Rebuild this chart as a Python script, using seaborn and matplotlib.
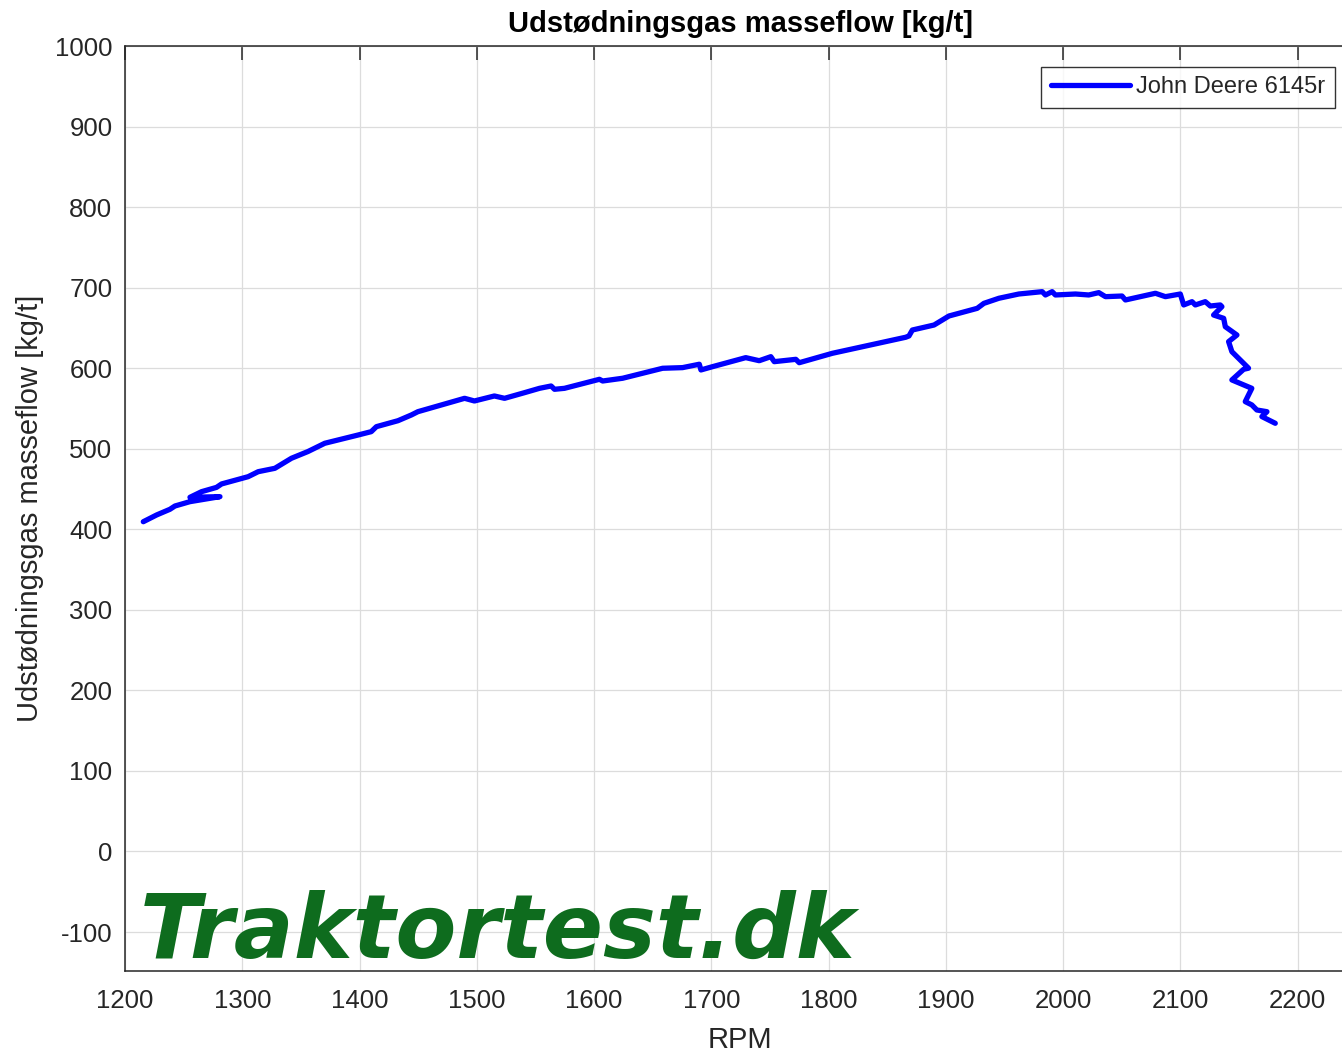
import matplotlib
matplotlib.use("Agg")
import matplotlib.pyplot as plt
import seaborn as sns
import pandas as pd

# ---- data ----
rpm = [1215.6, 1227.0, 1238.3, 1242.6, 1255.4, 1281.0, 1255.4, 1265.3, 1278.0, 1282.4,
       1305.0, 1313.6, 1327.8, 1342.0, 1356.0, 1370.4, 1398.7, 1410.0, 1414.4, 1432.8,
       1444.2, 1449.8, 1489.6, 1498.0, 1515.0, 1523.7, 1540.7, 1553.5, 1563.4, 1566.3,
       1574.8, 1604.6, 1607.4, 1624.4, 1658.5, 1675.5, 1689.8, 1691.2, 1701.1, 1729.4,
       1740.9, 1750.8, 1753.7, 1772.1, 1775.0, 1803.3, 1865.8, 1868.6, 1871.5, 1890.0,
       1902.7, 1926.8, 1932.5, 1945.3, 1962.3, 1982.2, 1985.0, 1990.7, 1993.5, 2010.6,
       2021.9, 2030.5, 2036.2, 2050.3, 2053.2, 2078.8, 2087.3, 2100.0, 2102.9, 2110.0,
       2112.8, 2121.3, 2125.6, 2134.1, 2135.5, 2128.4, 2137.0, 2138.4, 2148.3, 2141.2,
       2144.0, 2158.2, 2154.0, 2144.0, 2161.0, 2155.4, 2161.0, 2165.3, 2173.9, 2169.6,
       2181.0]
flow = [409.4, 417.8, 424.8, 428.9, 434.3, 440.5, 439.7, 446.7, 452.0, 456.3,
        465.3, 471.5, 475.7, 488.2, 496.5, 506.8, 517.0, 521.2, 527.4, 534.8,
        541.9, 546.0, 562.6, 559.3, 565.5, 562.6, 569.6, 575.0, 577.9, 573.8,
        575.0, 586.2, 584.1, 587.5, 599.9, 600.7, 604.9, 597.8, 601.9, 613.1,
        609.3, 614.3, 608.1, 611.0, 606.8, 618.5, 638.4, 640.0, 647.4, 653.6,
        664.8, 674.3, 680.5, 686.8, 692.1, 695.0, 690.9, 695.0, 690.9, 692.1,
        690.9, 693.8, 688.8, 689.6, 684.7, 693.0, 688.8, 692.1, 678.5, 682.6,
        678.5, 682.6, 677.2, 678.5, 676.4, 666.0, 661.9, 651.5, 641.2, 633.0,
        620.5, 600.0, 598.6, 585.4, 575.0, 558.5, 554.4, 548.1, 546.0, 539.9,
        531.6]
series_name = "John Deere 6145r"
x_ticks = [1200, 1300, 1400, 1500, 1600, 1700, 1800, 1900, 2000, 2100, 2200]
y_ticks = [-100, 0, 100, 200, 300, 400, 500, 600, 700, 800, 900, 1000]
title = "Udstødningsgas masseflow [kg/t]"
x_label = "RPM"
y_label = "Udstødningsgas masseflow [kg/t]"
watermark = "Traktortest.dk"

df = pd.DataFrame({"RPM": rpm, "flow": flow, "series": series_name})

sns.set_theme(style="white")
plt.rcParams["font.family"] = ["Liberation Sans", "DejaVu Sans"]
plt.rcParams["axes.unicode_minus"] = False

W, H = 1342, 1054
fig = plt.figure(figsize=(W / 100, H / 100), dpi=100)
left_px, top_px, bottom_px, right_px = 125, 46, 971, 1355
ax = fig.add_axes([left_px / W, 1 - bottom_px / H,
                   (right_px - left_px) / W, (bottom_px - top_px) / H])

sns.lineplot(data=df, x="RPM", y="flow", hue="series", sort=False, estimator=None,
             palette=["#0000ff"], linewidth=3.8, ax=ax)

ax.set_xlim(1200, 2249.0)
ax.set_ylim(-148.4, 1000)
ax.set_xticks(x_ticks)
ax.set_yticks(y_ticks)
ax.grid(True, color="#dcdcdc", linewidth=0.9)
ax.set_axisbelow(True)
for s in ax.spines.values():
    s.set_color("#262626")
    s.set_linewidth(1.1)
ax.tick_params(axis="both", direction="in", length=10, width=1.1, color="#262626",
               labelsize=18.5, labelcolor="#262626", top=True, right=False)
ax.tick_params(axis="x", pad=13)
ax.tick_params(axis="y", pad=9)

ax.set_title(title, fontsize=21, fontweight="bold", color="black", pad=10)
ax.set_xlabel(x_label, fontsize=21, color="#262626", labelpad=9)
ax.set_ylabel(y_label, fontsize=21, color="#262626", labelpad=8)

leg = ax.legend(loc="upper right", bbox_to_anchor=(1335 / W, 1 - 67 / H),
                bbox_transform=fig.transFigure, borderaxespad=0, fontsize=17,
                frameon=True, fancybox=False, handlelength=3.35, handletextpad=0.28,
                borderpad=0.4)
leg.get_frame().set_edgecolor("black")
leg.get_frame().set_linewidth(1.0)
for line in leg.get_lines():
    line.set_linewidth(3.8)

fig.text(140 / W, (H - 958) / H, watermark, fontsize=64, fontweight="bold",
         fontstyle="oblique", family="DejaVu Sans", color="#0e6c1e",
         ha="left", va="baseline", zorder=10)

fig.savefig("out.png", dpi=100)
